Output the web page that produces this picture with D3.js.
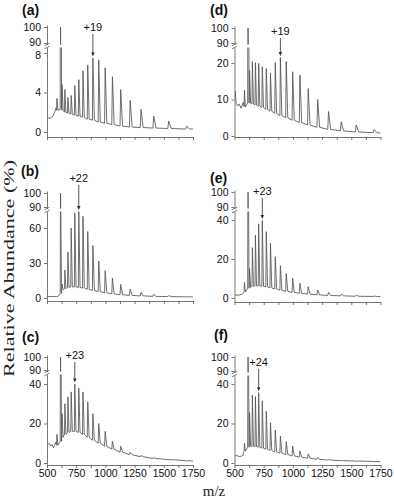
<!DOCTYPE html>
<html>
<head>
<meta charset="utf-8">
<script src="https://cdn.jsdelivr.net/npm/d3@7"></script>
<style>
  body { margin: 0; background: #fff; }
  svg { display: block; }
</style>
</head>
<body>
<div id="chart"></div>
<script>
// charge-state ladder (m/z) shared by all spectra, heme peak at 616
const ladderMz = [585, 616, 629, 653, 679, 707, 738, 772, 808, 849, 893, 943, 998, 1060, 1131, 1212, 1305, 1414, 1542, 1696];

// peak heights (%) and the level of the trace at each peak's foot
const heightsA = [3.4, 100, 4.8, 4.3, 3.5, 3.7, 4.7, 5.3, 6.2, 6.8, 7.5, 7.3, 6.5, 5.6, 4.3, 3.2, 2.3, 1.6, 1.1, 0.6];
const feetA    = [2.2, 2.3, 2.2, 2.0, 1.9, 1.8, 1.7, 1.6, 1.5, 1.3, 1.2, 1.0, 0.9, 0.75, 0.6, 0.5, 0.45, 0.4, 0.35, 0.3];
const leadA    = [[500, 1.6], [512, 1.4], [530, 1.4], [550, 1.6], [566, 2.0], [576, 2.4]];
const tailA    = [[1750, 0.3]];

const heightsB = [1.5, 100, 12, 24, 39.5, 60, 73, 75, 70, 57, 45, 31.7, 23.4, 17, 11.7, 7.7, 4.9, 3.1, 2.0, 1.1];
const feetB    = [1.2, 4, 7, 8, 9, 9.5, 9.5, 9, 8.5, 7.5, 6.5, 5.5, 4.5, 3.5, 2.8, 2.2, 1.8, 1.4, 1.2, 1.0];
const leadB    = [[500, 1.3], [540, 1.2], [575, 1.3]];
const tailB    = [[1750, 0.9]];

const heightsC = [14.5, 100, 25, 30, 33.5, 36, 40, 38, 36, 31, 25, 20, 16, 11, 8.5, 5.5, 3.8, 2.6, 1.7, 1.0];
const feetC    = [9, 11, 13, 14.5, 15.5, 16, 16, 15.5, 14.5, 13, 11.5, 10, 8.5, 7, 5.5, 4.2, 3.2, 2.3, 1.7, 1.2];
const leadC    = [[500, 10], [510, 9.4], [520, 10], [532, 8.6], [545, 9.2], [555, 7.8], [566, 9], [575, 10.5]];
const tailC    = [[1750, 0.9]];

const heightsD = [12.6, 100, 18, 20.4, 20.1, 19.9, 19, 18.5, 17.2, 20.1, 21.5, 20.4, 17.6, 16.7, 13, 10, 6.7, 3.9, 3.0, 1.8];
const feetD    = [8, 9, 9, 8.8, 8.5, 8.2, 7.8, 7.3, 6.8, 6.2, 5.6, 5, 4.3, 3.7, 3, 2.4, 1.8, 1.4, 1.1, 0.9];
const leadD    = [[500, 10.5], [506, 12.3], [514, 9], [526, 8.2], [540, 8.8], [556, 7.6], [566, 8.4], [575, 9.2]];
const tailD    = [[1750, 0.8]];

const heightsE = [8, 100, 15.2, 25.8, 32.3, 38, 39.7, 34, 28, 21.2, 16.6, 12.6, 10.1, 7.5, 5.8, 4.1, 2.9, 2.0, 1.4, 1.0];
const feetE    = [3, 5, 5.5, 6, 6.2, 6.2, 6, 5.7, 5.2, 4.6, 4, 3.4, 2.9, 2.4, 2, 1.6, 1.3, 1.1, 0.9, 0.8];
const leadE    = [[500, 1.5], [540, 1.5], [568, 2], [578, 2.8]];
const tailE    = [[1750, 0.7]];

const heightsF = [10, 100, 25.5, 34.4, 33.6, 35.6, 31.5, 26.3, 20.4, 16.7, 13.7, 10.8, 8.6, 6.1, 4.6, 2.7, 1.8, 1.2, 0.8, 0.6];
const feetF    = [6, 8, 8.5, 8.5, 8.3, 8, 7.5, 7, 6.3, 5.6, 5, 4.3, 3.6, 3, 2.4, 1.9, 1.5, 1.2, 1, 0.8];
const leadF    = [[500, 3.5], [520, 3.8], [540, 3.2], [560, 3.5], [572, 3.8], [579, 5.5]];
const tailF    = [[1750, 0.6]];

// y tick labels of the lower segment of each broken axis
const ticksA = [0, 4, 8];
const ticksB = [0, 30, 60];
const ticksC = [0, 20, 40];
const ticksD = [0, 10, 20];
const ticksE = [0, 20, 40];
const ticksF = [0, 20, 40];
const upperTicks = [90, 100];
const xMinorTicks = [500, 625, 750, 875, 1000, 1125, 1250, 1375, 1500, 1625, 1750];

const width = 394, height = 501;
const plotW = 146;

const panels = [
  {name: "(a)", h: heightsA, f: feetA, lead: leadA, tail: tailA, ticks: ticksA, x0: 47, lowDom: [0, 8], lowRange: [132, 53], hiRange: [43, 27], axisY: 137,
   lx: 22, ly: 15, note: "+19", noteMz: 893, noteY: 31, bottom: false, tight: true},
  {name: "(b)", h: heightsB, f: feetB, lead: leadB, tail: tailB, ticks: ticksB, x0: 47, lowDom: [0, 60], lowRange: [298, 228], hiRange: [207, 193], axisY: 301,
   lx: 21, ly: 176, note: "+22", noteMz: 772, noteY: 182, bottom: false},
  {name: "(c)", h: heightsC, f: feetC, lead: leadC, tail: tailC, ticks: ticksC, x0: 47, lowDom: [0, 40], lowRange: [463, 384], hiRange: [370, 357], axisY: 465,
   lx: 22, ly: 342, note: "+23", noteMz: 738, noteY: 359, bottom: true},
  {name: "(d)", h: heightsD, f: feetD, lead: leadD, tail: tailD, ticks: ticksD, x0: 234.5, lowDom: [0, 20], lowRange: [136, 63], hiRange: [43, 28], axisY: 137,
   lx: 210, ly: 15, note: "+19", noteMz: 893, noteY: 35, bottom: false},
  {name: "(e)", h: heightsE, f: feetE, lead: leadE, tail: tailE, ticks: ticksE, x0: 234.5, lowDom: [0, 40], lowRange: [298, 220], hiRange: [207, 192], axisY: 302,
   lx: 210, ly: 183, note: "+23", noteMz: 738, noteY: 195, bottom: false},
  {name: "(f)", h: heightsF, f: feetF, lead: leadF, tail: tailF, ticks: ticksF, x0: 234.5, lowDom: [0, 40], lowRange: [463, 384], hiRange: [371, 357], axisY: 465,
   lx: 214, ly: 340, note: "+24", noteMz: 707, noteY: 366, bottom: true}
];

const svg = d3.select("#chart").append("svg")
    .attr("width", width)
    .attr("height", height);

const defs = svg.append("defs");
const sans = "Liberation Sans, Arial, sans-serif";
const serif = "Liberation Serif, Times New Roman, serif";
const axisColor = "#555";
const traceColor = "#555";

// vertices of one trace: baseline lead-in, then each peak as foot-apex-foot
function tracePoints(p) {
  const pts = p.lead.slice();
  ladderMz.forEach((mz, i) => {
    pts.push([mz - mz * 0.005, p.f[i]], [mz, p.h[i]], [mz + mz * 0.014, p.f[i]]);
  });
  return pts.concat(p.tail);
}

panels.forEach((p, k) => {
  const x = d3.scaleLinear().domain([500, 1750]).range([p.x0, p.x0 + plotW]);

  const baseLow = d3.scaleLinear().domain(p.lowDom).range(p.lowRange);
  const baseHigh = d3.scaleLinear().domain([90, 100]).range(p.hiRange);
  const gapTop = baseHigh(90) + 1.5;
  const gapBot = gapTop + 3;
  const top = baseHigh(100) - 2;

  const yLow = d3.scaleLinear()
      .domain([baseLow.invert(p.axisY), baseLow.invert(gapBot)])
      .range([p.axisY, gapBot]);
  const yHigh = d3.scaleLinear()
      .domain([baseHigh.invert(gapTop), baseHigh.invert(top)])
      .range([gapTop, top]);

  const g = svg.append("g");

  // clip regions for the two parts of the broken axis
  defs.append("clipPath").attr("id", "low" + k).append("rect")
      .attr("x", p.x0 + 0.5).attr("y", gapBot)
      .attr("width", plotW).attr("height", p.axisY - gapBot);
  defs.append("clipPath").attr("id", "high" + k).append("rect")
      .attr("x", p.x0 + 0.5).attr("y", top - 2)
      .attr("width", plotW).attr("height", gapTop - top + 2);

  const pts = tracePoints(p);

  g.append("path")
      .datum(pts)
      .attr("clip-path", `url(#low${k})`)
      .attr("fill", "none")
      .attr("stroke", traceColor)
      .attr("stroke-width", 0.85)
      .attr("stroke-linejoin", "round")
      .attr("d", d3.line().x(d => x(d[0])).y(d => yLow(d[1])));

  g.append("path")
      .datum(pts)
      .attr("clip-path", `url(#high${k})`)
      .attr("fill", "none")
      .attr("stroke", traceColor)
      .attr("stroke-width", 0.85)
      .attr("d", d3.line().x(d => x(d[0])).y(d => yHigh(d[1])));

  // x axis
  const xAxis = g.append("g")
      .attr("transform", `translate(0,${p.axisY})`)
      .call(d3.axisBottom(x)
          .tickValues(xMinorTicks)
          .tickSize(3)
          .tickSizeOuter(0)
          .tickPadding(2)
          .tickFormat(d => (p.bottom && d % 250 === 0) ? d : ""));

  // y axis, lower and upper segments
  const yAxisLow = g.append("g")
      .attr("transform", `translate(${p.x0},0)`)
      .call(d3.axisLeft(yLow).tickValues(p.ticks).tickSize(3).tickSizeOuter(0).tickPadding(3));
  const yAxisHigh = g.append("g")
      .attr("transform", `translate(${p.x0},0)`)
      .call(d3.axisLeft(yHigh).tickValues(upperTicks).tickSize(3).tickSizeOuter(0).tickPadding(3));

  [xAxis, yAxisLow, yAxisHigh].forEach(a => {
    a.selectAll("path, line").attr("stroke", axisColor).attr("stroke-width", 0.8);
    a.selectAll("text")
        .attr("font-family", sans)
        .attr("font-size", 10.5)
        .attr("fill", "#111");
  });

  // where the top lower tick sits right under "90", pull the two labels apart a little
  if (p.tight) {
    yAxisLow.selectAll(".tick text").filter(d => d === p.ticks[p.ticks.length - 1]).attr("dy", "0.5em");
    yAxisHigh.selectAll(".tick text").filter(d => d === 90).attr("dy", "0.2em");
  }

  // break mark on the y axis
  [gapTop, gapBot].forEach(yy => {
    g.append("line")
        .attr("x1", p.x0 - 2.5).attr("y1", yy + 1.2)
        .attr("x2", p.x0 + 2.5).attr("y2", yy - 1.2)
        .attr("stroke", axisColor)
        .attr("stroke-width", 0.8);
  });

  // panel letter
  g.append("text")
      .attr("x", p.lx).attr("y", p.ly)
      .attr("font-family", sans)
      .attr("font-size", 14)
      .attr("font-weight", "bold")
      .attr("fill", "#111")
      .text(p.name);

  // charge-state annotation with arrow
  const iNote = ladderMz.indexOf(p.noteMz);
  const ax = x(p.noteMz);
  const tipY = yLow(Math.min(p.h[iNote], yLow.domain()[1])) - 1.5;
  g.append("text")
      .attr("x", ax).attr("y", p.noteY)
      .attr("text-anchor", "middle")
      .attr("font-family", sans)
      .attr("font-size", 11)
      .attr("fill", "#111")
      .text(p.note);
  g.append("line")
      .attr("x1", ax).attr("x2", ax)
      .attr("y1", p.noteY + 3).attr("y2", tipY - 3)
      .attr("stroke", "#444")
      .attr("stroke-width", 0.9);
  g.append("path")
      .attr("d", `M${ax - 1.8},${tipY - 4}L${ax + 1.8},${tipY - 4}L${ax},${tipY}Z`)
      .attr("fill", "#333");
});

// shared axis titles
svg.append("text")
    .attr("transform", "translate(14,268.5) rotate(-90)")
    .attr("text-anchor", "middle")
    .attr("font-family", serif)
    .attr("font-size", 15.5)
    .attr("textLength", 217)
    .attr("lengthAdjust", "spacingAndGlyphs")
    .attr("fill", "#222")
    .text("Relative Abundance (%)");

svg.append("text")
    .attr("x", 214).attr("y", 496)
    .attr("text-anchor", "middle")
    .attr("font-family", serif)
    .attr("font-size", 15)
    .attr("fill", "#222")
    .text("m/z");
</script>
</body>
</html>
